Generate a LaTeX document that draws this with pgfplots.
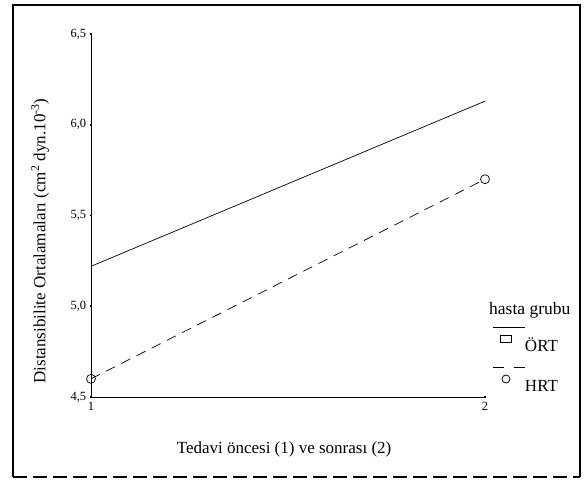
\documentclass[border=0pt]{standalone}
\usepackage{pgfplots}
\pgfplotsset{compat=1.18}
\usepackage{fontspec}
\setmainfont{Liberation Serif}
\begin{document}
\begin{tikzpicture}
\path[use as bounding box] (-91pt,-85pt) rectangle (493pt,397pt);
\begin{axis}[
  scale only axis,
  width=394pt, height=363pt,
  xmin=1, xmax=2, ymin=4.5, ymax=6.5,
  axis x line=bottom, axis y line=left,
  axis line style={-, line width=0.9pt},
  xtick={1,2}, ytick={4.5,5.0,5.5,6.0,6.5},
  yticklabel style={/pgf/number format/.cd, fixed, fixed zerofill, precision=1, use comma},
  /pgf/number format/assume math mode=true,
  tick align=center, major tick length=2.5pt,
  tick style={line width=1.8pt, black},
  ticklabel style={font=\fontsize{12.5}{13}\selectfont},
  xlabel={Tedavi öncesi (1) ve sonrası (2)},
  ylabel={Distansibilite Ortalamaları (cm\textsuperscript{2} dyn.10\textsuperscript{-3})},
  label style={font=\fontsize{17}{19}\selectfont},
  x label style={at={(axis description cs:0.49,-0.145)}, anchor=center},
  y label style={at={(axis description cs:-0.129,0.43)}, anchor=center},
  legend cell align=left,
  legend style={at={(axis description cs:1.0203,0.1529)}, anchor=north west,
    draw=none, fill=none, inner sep=0pt, outer sep=0pt, column sep=0pt, row sep=27pt,
    font=\fontsize{17}{19}\selectfont,
    nodes={inner sep=0pt, text height=10pt, text depth=3pt}},
  legend image code/.code={
    \draw[#1, mark=none, overlay] (0pt,21pt) -- (32pt,21pt);
    \draw[#1, solid, overlay] plot coordinates {(13pt,9pt)};
    \path[draw=none, fill=none] (0pt,-2pt) rectangle (32pt,2pt);
  },
  clip=false,
]
\addplot[black, line width=0.7pt, mark=none, forget plot] coordinates {(1,5.22) (2,6.13)};
\addplot[black, line width=0.7pt, dash pattern=on 10pt off 7pt, mark=o, mark size=4.5pt, mark options={solid}, forget plot] coordinates {(1,4.60) (2,5.70)};
\addlegendimage{black, line width=0.8pt, solid, mark=square, mark size=5.5pt, mark options={yscale=0.65}}
\addlegendentry{ÖRT}
\addlegendimage{black, line width=0.8pt, dash pattern=on 11pt off 10pt, mark=o, mark size=4pt}
\addlegendentry{HRT}
\end{axis}
\node[anchor=west, inner sep=0pt, font=\fontsize{17.5}{19}\selectfont] at (398pt,87pt) {hasta grubu};
\draw[line width=1.5pt] (-78pt,-80pt) -- (-78pt,392pt) -- (489pt,392pt) -- (489pt,-80pt);
\draw[line width=2pt, dash pattern=on 14pt off 6pt] (-78pt,-80pt) -- (489pt,-80pt);
\end{tikzpicture}
\end{document}
